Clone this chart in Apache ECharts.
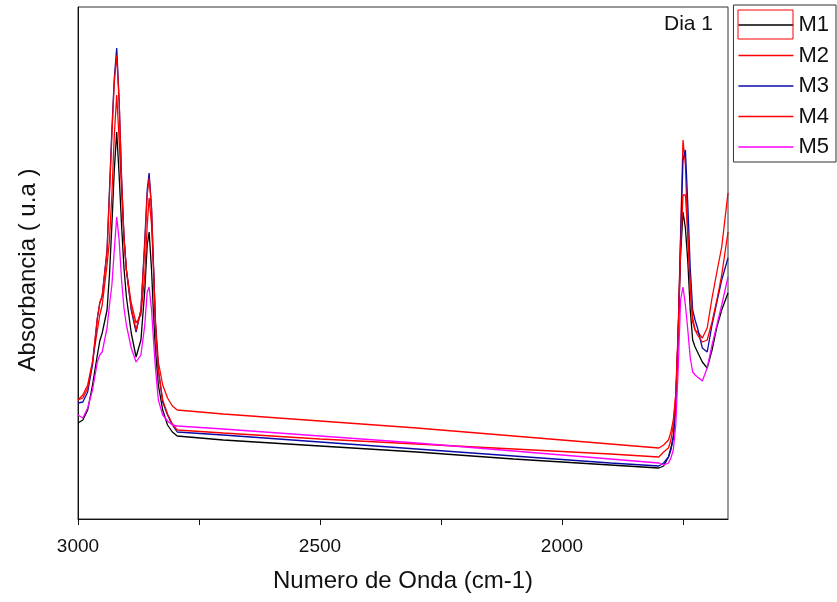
<!DOCTYPE html>
<html>
<head>
<meta charset="utf-8">
<title>Dia 1</title>
<script src="https://cdn.jsdelivr.net/npm/echarts@6/dist/echarts.min.js"></script>
<style>
  html, body { margin: 0; padding: 0; background: #fff; }
  #chart { width: 837px; height: 602px; }
</style>
</head>
<body>
<div id="chart"></div>
<script>
// numero de onda (cm-1)
const wavenumber = [3000, 2990, 2980, 2970, 2960, 2955, 2950, 2940, 2935, 2930,
  2925, 2920, 2915, 2910, 2905, 2900, 2890, 2880, 2870, 2862,
  2857, 2853, 2848, 2844, 2840, 2834, 2825, 2815, 2805, 2795,
  2700, 2500, 2300, 2100, 1900, 1800,
  1790, 1780, 1775, 1770, 1765, 1760, 1755, 1750, 1745, 1740,
  1735, 1730, 1725, 1720, 1710, 1700, 1690, 1680, 1670, 1657];

// absorbancia (u.a)
const m1 = [0.096, 0.099, 0.109, 0.134, 0.164, 0.178, 0.186, 0.209, 0.244, 0.294,
  0.349, 0.387, 0.344, 0.294, 0.251, 0.222, 0.186, 0.162, 0.179, 0.229,
  0.274, 0.287, 0.249, 0.204, 0.169, 0.134, 0.109, 0.094, 0.087, 0.083,
  0.079, 0.073, 0.067, 0.060, 0.054, 0.051,
  0.053, 0.062, 0.071, 0.082, 0.114, 0.184, 0.264, 0.307, 0.291, 0.257,
  0.209, 0.179, 0.172, 0.167, 0.157, 0.151, 0.169, 0.192, 0.209, 0.226];
const m2 = [0.119, 0.124, 0.134, 0.157, 0.189, 0.204, 0.214, 0.254, 0.279, 0.324,
  0.384, 0.424, 0.379, 0.329, 0.281, 0.249, 0.216, 0.196, 0.204, 0.244,
  0.294, 0.321, 0.294, 0.251, 0.199, 0.157, 0.134, 0.121, 0.113, 0.109,
  0.105, 0.098, 0.091, 0.083, 0.075, 0.071,
  0.074, 0.079, 0.087, 0.099, 0.124, 0.189, 0.284, 0.379, 0.354, 0.284,
  0.229, 0.197, 0.189, 0.187, 0.181, 0.191, 0.221, 0.247, 0.272, 0.326];
const m3 = [0.116, 0.117, 0.127, 0.154, 0.201, 0.216, 0.223, 0.269, 0.329, 0.389,
  0.441, 0.471, 0.419, 0.342, 0.282, 0.249, 0.209, 0.187, 0.209, 0.279,
  0.329, 0.346, 0.311, 0.254, 0.194, 0.149, 0.117, 0.104, 0.094, 0.087,
  0.084, 0.077, 0.070, 0.063, 0.056, 0.053,
  0.056, 0.062, 0.069, 0.081, 0.114, 0.184, 0.279, 0.359, 0.369, 0.314,
  0.251, 0.209, 0.199, 0.191, 0.171, 0.167, 0.194, 0.217, 0.239, 0.261];
const m4 = [0.119, 0.121, 0.131, 0.157, 0.201, 0.216, 0.223, 0.267, 0.324, 0.384,
  0.437, 0.464, 0.417, 0.339, 0.281, 0.249, 0.211, 0.189, 0.209, 0.274,
  0.324, 0.341, 0.309, 0.251, 0.194, 0.149, 0.119, 0.105, 0.095, 0.089,
  0.086, 0.080, 0.075, 0.070, 0.065, 0.062,
  0.067, 0.071, 0.079, 0.094, 0.124, 0.184, 0.269, 0.324, 0.324, 0.284,
  0.234, 0.201, 0.189, 0.184, 0.177, 0.179, 0.197, 0.219, 0.244, 0.287];
const m5 = [0.104, 0.101, 0.111, 0.129, 0.157, 0.164, 0.167, 0.191, 0.214, 0.234,
  0.269, 0.302, 0.279, 0.239, 0.211, 0.194, 0.171, 0.157, 0.164, 0.194,
  0.227, 0.232, 0.209, 0.179, 0.151, 0.119, 0.104, 0.098, 0.094, 0.093,
  0.090, 0.083, 0.076, 0.068, 0.060, 0.056,
  0.054, 0.056, 0.061, 0.069, 0.094, 0.149, 0.219, 0.232, 0.214, 0.189,
  0.161, 0.147, 0.144, 0.142, 0.138, 0.151, 0.174, 0.194, 0.214, 0.242];

const names = ['M1', 'M2', 'M3', 'M4', 'M5'];
const colors = ['#000000', '#ff0000', '#0a0aa8', '#ff0000', '#ff00ff'];
const tickValues = [3000, 2750, 2500, 2250, 2000, 1750];
const labelValues = [3000, 2500, 2000];

const font = '"Liberation Sans", Arial, sans-serif';
const chart = echarts.init(document.getElementById('chart'));

const series = [m1, m2, m3, m4, m5].map((ys, k) => ({
  name: names[k],
  type: 'line',
  symbol: 'none',
  color: colors[k],
  lineStyle: { width: 1.3, color: colors[k] },
  data: wavenumber.map((w, i) => [w, ys[i]])
}));

chart.setOption({
  animation: false,
  textStyle: { fontFamily: font },
  title: {
    text: 'Dia 1',
    right: 119,
    top: 9,
    textStyle: { fontSize: 21, fontWeight: 'normal', color: '#111', fontFamily: font }
  },
  legend: {
    orient: 'vertical',
    right: 1,
    top: 5,
    padding: [9, 7, 4, 5],
    itemGap: 8.5,
    itemWidth: 55,
    itemHeight: 1.5,
    icon: 'rect',
    borderColor: '#333',
    borderWidth: 1,
    textStyle: { fontSize: 22, color: '#111', fontFamily: font, lineHeight: 22 },
    data: names
  },
  grid: {
    left: 78,
    right: 109,
    top: 7,
    bottom: 83,
    containLabel: false,
    outerBoundsMode: 'none',
    show: true,
    borderColor: '#333',
    borderWidth: 1
  },
  xAxis: {
    type: 'value',
    inverse: true,
    min: 1657,
    max: 3000,
    name: 'Numero de Onda (cm-1)',
    nameLocation: 'middle',
    nameGap: 50,
    nameTextStyle: { fontSize: 24, color: '#111', fontFamily: font },
    axisLine: { lineStyle: { color: '#111', width: 1 } },
    axisTick: { show: true, length: 6, customValues: tickValues, lineStyle: { color: '#111' } },
    axisLabel: {
      customValues: labelValues,
      formatter: v => String(v),
      fontSize: 19,
      color: '#111',
      margin: 18,
      fontFamily: font
    },
    splitLine: { show: false }
  },
  yAxis: {
    type: 'value',
    min: 0,
    max: 0.512,
    name: 'Absorbancia ( u.a )',
    nameLocation: 'middle',
    nameGap: 38,
    nameTextStyle: { fontSize: 24, color: '#111', fontFamily: font, padding: [0, 14, 0, 0] },
    axisLine: { show: true, lineStyle: { color: '#111', width: 1 } },
    axisTick: { show: false },
    axisLabel: { show: false },
    splitLine: { show: false }
  },
  graphic: [{
    type: 'rect',
    shape: { x: 738, y: 10, width: 55, height: 29 },
    style: { fill: 'none', stroke: '#ff0000', lineWidth: 1 },
    z: 100
  }],
  series: series
});
</script>
</body>
</html>
